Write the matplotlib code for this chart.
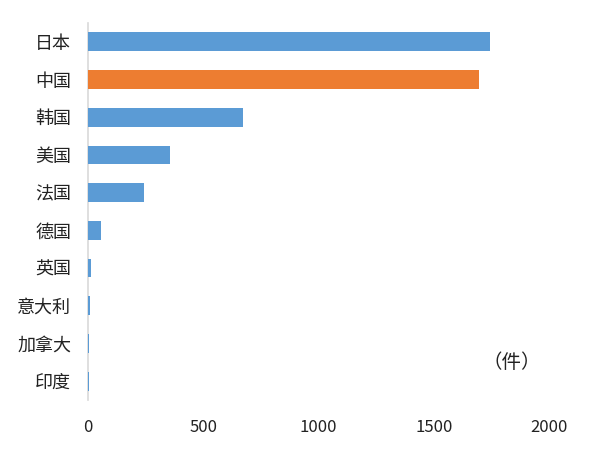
import matplotlib
matplotlib.use("Agg")
import matplotlib.pyplot as plt

plt.rcParams['font.family'] = ['Noto Sans CJK SC', 'DejaVu Sans']

countries = ["日本", "中国", "韩国", "美国", "法国", "德国", "英国", "意大利", "加拿大", "印度"]
values = [1744, 1696, 672, 356, 243, 56, 14, 10, 6, 5]
highlight = "中国"
xticks = [0, 500, 1000, 1500, 2000]
unit_label = "（件）"

blue = "#5B9BD5"
orange = "#ED7D31"
colors = [orange if c == highlight else blue for c in countries]

fig = plt.figure(figsize=(5.91, 4.5), dpi=100)
ax = fig.add_axes([88/591, 1-400/450, (549-88)/591, (400-23)/450])
ypos = list(range(len(countries)))
ax.barh(ypos, values, height=0.5, color=colors, zorder=3)
ax.set_ylim(len(countries)-0.5, -0.5)
ax.set_xlim(0, 2000)
ax.set_yticks(ypos)
ax.set_yticklabels(countries, fontsize=13, color="#222222")
ax.set_xticks(xticks)
ax.set_xticklabels([str(t) for t in xticks], fontsize=12, color="#222222")
ax.tick_params(axis='y', length=0, pad=12)
ax.tick_params(axis='x', length=0, pad=14)
for s in ["top", "right", "bottom"]:
    ax.spines[s].set_visible(False)
ax.spines["left"].set_color("#D9D9D9")
ax.spines["left"].set_linewidth(1.2)
ax.spines["left"].set_zorder(1)

fig.text(512/591, 1-362/450, unit_label, fontsize=14, ha="center", va="center", color="#222222")

fig.savefig("out.png", dpi=100, facecolor="white")
